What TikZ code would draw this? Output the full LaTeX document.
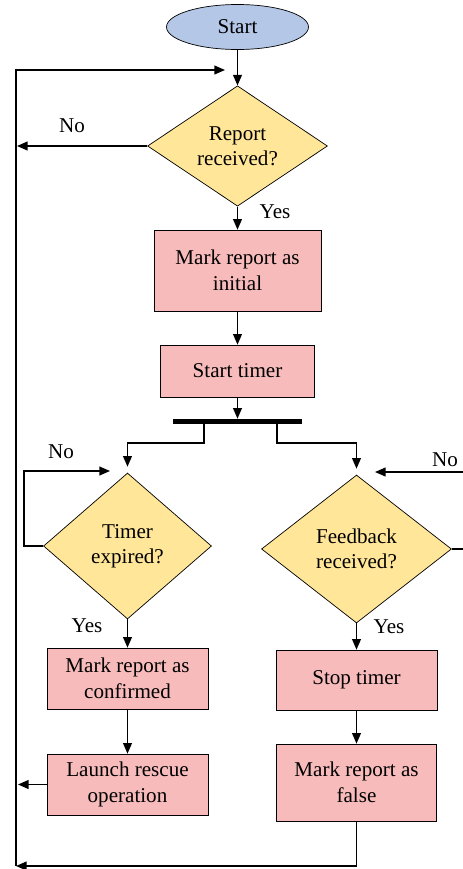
\documentclass[tikz,border=0pt]{standalone}
\usepackage{fontspec}
\setmainfont{Liberation Serif}
\usepackage{tikz}
\usetikzlibrary{shapes.geometric,arrows.meta}

\definecolor{startblue}{RGB}{180,199,231}
\definecolor{askyellow}{RGB}{255,230,153}
\definecolor{stepred}{RGB}{247,187,187}

\begin{document}
\begin{tikzpicture}[x=0.02cm,y=-0.02cm,
	>={Triangle[length=6pt,width=5pt]},
	txt/.style={font=\fontsize{12}{14.5}\selectfont,align=center},
	terminal/.style={shape=ellipse,draw=black,fill=startblue,txt,inner sep=0pt,minimum width=2.84cm,minimum height=0.9cm},
	ask/.style={shape=diamond,draw=black,fill=askyellow,txt,inner sep=0pt},
	stepbox/.style={shape=rectangle,draw=black,fill=stepred,txt,inner sep=0pt}]

	\useasboundingbox (0,0) rectangle (463,869);

	\node[terminal] (start) at (237.5,27) {Start};
	\node[ask,minimum width=3.6cm,minimum height=2.26cm] (report) at (237.5,146) {Report\\received?};
	\node[stepbox,minimum width=3.34cm,minimum height=1.62cm] (initial) at (237.5,270.5) {Mark report as\\initial};
	\node[stepbox,minimum width=3.08cm,minimum height=1.04cm] (timer) at (237.5,371) {Start timer};
	\node[fill=black,inner sep=0pt,minimum width=2.58cm,minimum height=0.1cm] (bar) at (237.5,421.5) {};
	\node[ask,minimum width=3.36cm,minimum height=2.92cm] (expired) at (127.5,546) {Timer\\expired?};
	\node[ask,minimum width=3.8cm,minimum height=2.96cm] (feedback) at (356.5,549) {Feedback\\received?};
	\node[stepbox,minimum width=3.22cm,minimum height=1.22cm] (confirmed) at (127.5,678.5) {Mark report as\\confirmed};
	\node[stepbox,minimum width=3.22cm,minimum height=1.22cm] (rescue) at (127.5,784.5) {Launch rescue\\operation};
	\node[stepbox,minimum width=3.22cm,minimum height=1.2cm] (stop) at (356.5,680) {Stop timer};
	\node[stepbox,minimum width=3.2cm,minimum height=1.54cm] (false) at (356.5,782.5) {Mark report as\\false};

	\node[txt] (no1) at (72,126) {No};
	\node[txt] (yes1) at (275,212) {Yes};
	\node[txt] (no2) at (61,452) {No};
	\node[txt] (yes2) at (87,626) {Yes};
	\node[txt] (no3) at (445,460) {No};
	\node[txt] (yes3) at (389,627) {Yes};

	\coordinate (lefttop) at (16,70);
	\coordinate (leftbot) at (16,866);
	\coordinate (back) at (225,70);
	\coordinate (noleft) at (17,146);
	\coordinate (forkl) at (204,424);
	\coordinate (forkr) at (277,424);
	\coordinate (waitl) at (110,471);
	\coordinate (waitr) at (375,472);
	\coordinate (rescueout) at (18,784.5);

	\path[->, thick] (start) edge (report);
	\path[->, thick] (report) edge (noleft);
	\path[->, thick] (report) edge (initial);
	\path[->, thick] (initial) edge (timer);
	\path[->, thick] (timer) edge (bar);
	\draw[->, thick, shorten >=0.12cm] (forkl) -- ++(0,19) -| (expired.north);
	\draw[->, thick, shorten >=0.12cm] (forkr) -- ++(0,19) -| (feedback.north);
	\draw[->, thick] (expired.west) -- ++(-19,0) |- (waitl);
	\draw[->, thick] (feedback.east) -- ++(20,0) |- (waitr);
	\path[->, thick] (expired) edge (confirmed);
	\path[->, thick] (confirmed) edge (rescue);
	\path[->, thick] (rescue) edge (rescueout);
	\path[->, thick] (feedback) edge (stop);
	\path[->, thick] (stop) edge (false);
	\draw[->, thick] (false.south) |- (leftbot);
	\draw[->, thick] (leftbot) -- (lefttop) -- (back);

\end{tikzpicture}
\end{document}
